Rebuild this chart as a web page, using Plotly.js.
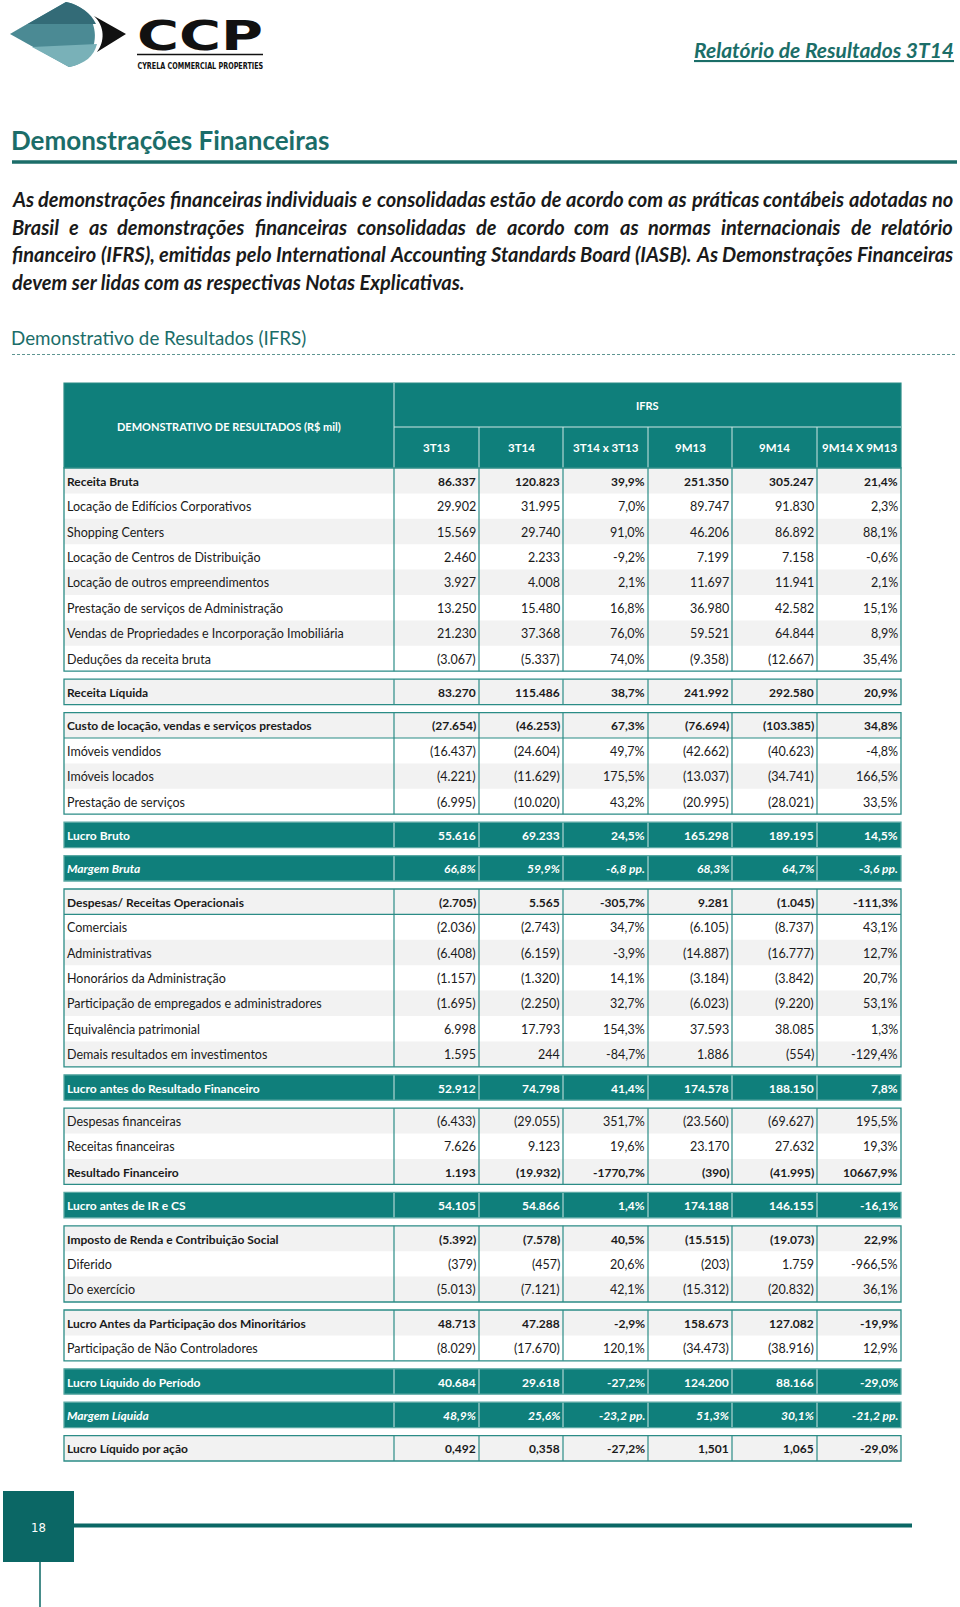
<!DOCTYPE html>
<html><head><meta charset="utf-8">
<script src="https://cdn.plot.ly/plotly-3.0.1.min.js"></script>
<style>html,body{margin:0;padding:0;background:#fff;}#chart{width:960px;height:1607px;}</style>
</head><body><div id="chart"></div>
<script>
// ================= DATA =================
const pageHeader = "Relatório de Resultados 3T14";
const sectionTitle = "Demonstrações Financeiras";
const subTitle = "Demonstrativo de Resultados (IFRS)";
const paragraphLines = [
  "As demonstrações financeiras individuais e consolidadas estão de acordo com as práticas contábeis adotadas no",
  "Brasil e as demonstrações financeiras consolidadas de acordo com as normas internacionais de relatório",
  "financeiro (IFRS), emitidas pelo International Accounting Standards Board (IASB). As Demonstrações Financeiras",
  "devem ser lidas com as respectivas Notas Explicativas."
];
const tableHeader = "DEMONSTRATIVO DE RESULTADOS (R$ mil)";
const tableGroupHeader = "IFRS";
const columnLabels = ["3T13", "3T14", "3T14 x 3T13", "9M13", "9M14", "9M14 X 9M13"];
const rowLabels = [
  "Receita Bruta", "Locação de Edifícios Corporativos", "Shopping Centers", "Locação de Centros de Distribuição",
  "Locação de outros empreendimentos", "Prestação de serviços de Administração",
  "Vendas de Propriedades e Incorporação Imobiliária", "Deduções da receita bruta",
  "Receita Líquida",
  "Custo de locação, vendas e serviços prestados", "Imóveis vendidos", "Imóveis locados", "Prestação de serviços",
  "Lucro Bruto",
  "Margem Bruta",
  "Despesas/ Receitas Operacionais", "Comerciais", "Administrativas", "Honorários da Administração",
  "Participação de empregados e administradores", "Equivalência patrimonial", "Demais resultados em investimentos",
  "Lucro antes do Resultado Financeiro",
  "Despesas financeiras", "Receitas financeiras", "Resultado Financeiro",
  "Lucro antes de IR e CS",
  "Imposto de Renda e Contribuição Social", "Diferido", "Do exercício",
  "Lucro Antes da Participação dos Minoritários", "Participação de Não Controladores",
  "Lucro Líquido do Período",
  "Margem Líquida",
  "Lucro Líquido por ação"
];
const val3T13 = ["86.337","29.902","15.569","2.460","3.927","13.250","21.230","(3.067)","83.270","(27.654)","(16.437)","(4.221)","(6.995)","55.616","66,8%","(2.705)","(2.036)","(6.408)","(1.157)","(1.695)","6.998","1.595","52.912","(6.433)","7.626","1.193","54.105","(5.392)","(379)","(5.013)","48.713","(8.029)","40.684","48,9%","0,492"];
const val3T14 = ["120.823","31.995","29.740","2.233","4.008","15.480","37.368","(5.337)","115.486","(46.253)","(24.604)","(11.629)","(10.020)","69.233","59,9%","5.565","(2.743)","(6.159)","(1.320)","(2.250)","17.793","244","74.798","(29.055)","9.123","(19.932)","54.866","(7.578)","(457)","(7.121)","47.288","(17.670)","29.618","25,6%","0,358"];
const var3T = ["39,9%","7,0%","91,0%","-9,2%","2,1%","16,8%","76,0%","74,0%","38,7%","67,3%","49,7%","175,5%","43,2%","24,5%","-6,8 pp.","-305,7%","34,7%","-3,9%","14,1%","32,7%","154,3%","-84,7%","41,4%","351,7%","19,6%","-1770,7%","1,4%","40,5%","20,6%","42,1%","-2,9%","120,1%","-27,2%","-23,2 pp.","-27,2%"];
const val9M13 = ["251.350","89.747","46.206","7.199","11.697","36.980","59.521","(9.358)","241.992","(76.694)","(42.662)","(13.037)","(20.995)","165.298","68,3%","9.281","(6.105)","(14.887)","(3.184)","(6.023)","37.593","1.886","174.578","(23.560)","23.170","(390)","174.188","(15.515)","(203)","(15.312)","158.673","(34.473)","124.200","51,3%","1,501"];
const val9M14 = ["305.247","91.830","86.892","7.158","11.941","42.582","64.844","(12.667)","292.580","(103.385)","(40.623)","(34.741)","(28.021)","189.195","64,7%","(1.045)","(8.737)","(16.777)","(3.842)","(9.220)","38.085","(554)","188.150","(69.627)","27.632","(41.995)","146.155","(19.073)","1.759","(20.832)","127.082","(38.916)","88.166","30,1%","1,065"];
const var9M = ["21,4%","2,3%","88,1%","-0,6%","2,1%","15,1%","8,9%","35,4%","20,9%","34,8%","-4,8%","166,5%","33,5%","14,5%","-3,6 pp.","-111,3%","43,1%","12,7%","20,7%","53,1%","1,3%","-129,4%","7,8%","195,5%","19,3%","10667,9%","-16,1%","22,9%","-966,5%","36,1%","-19,9%","12,9%","-29,0%","-21,2 pp.","-29,0%"];
const logoMark = "CCP";
const logoTagline = "CYRELA COMMERCIAL PROPERTIES";
const pageNumber = "18";

// ================= LAYOUT / STYLE CONFIG =================
const groupSizes = [8,1,4,1,1,7,1,3,1,3,2,1,1,1];
const boldRows = new Set([0,8,9,15,25,27,30,34]);
const tealRows = new Set([13,14,22,26,32,33]);
const italicRows = new Set([14,33]);
const headerRuleRows = new Set([9,15]);

const TEAL = '#0f7f7b', DARK_TEAL = '#0b6765', HEAD_TEAL = '#1b6d69';
const BORDER = '#2b8c86', LIGHT_LINE = '#cfe7e4', GRAY = '#f2f2f2', INK = '#1a1a1a';
const FONT = 'Lato, "Open Sans", sans-serif';
const colEdges = [64, 394, 479, 563, 648, 732, 817, 901];
const HEAD_TOP = 383, HEAD_MID = 427, HEAD_BOT = 468, ROW_H = 25.4, GAP = 8;
const BODY_SIZE = 12.5, BOLD_SIZE = 12;

const shapes = [], annotations = [], stretchTargets = [];
function rect(x0,y0,x1,y1,fill,lineColor,lw){
  shapes.push({type:'rect',xref:'x',yref:'y',x0,y0,x1,y1,fillcolor:fill||'rgba(0,0,0,0)',
    line:{color:lineColor||'rgba(0,0,0,0)',width:lw||0},layer:'above'});
}
function line(x0,y0,x1,y1,color,w,dash){
  shapes.push({type:'line',xref:'x',yref:'y',x0,y0,x1,y1,line:{color,width:w,dash:dash||'solid'},layer:'above'});
}
function ann(x,y,text,font,xanchor,extra){
  annotations.push(Object.assign({x,y,xref:'x',yref:'y',text,showarrow:false,xanchor:xanchor||'left',yanchor:'middle',
    borderpad:0,borderwidth:0,font:Object.assign({family:FONT,size:BODY_SIZE,color:INK},font||{})},extra||{}));
  return annotations.length-1;
}

// ---------- Logo ----------
shapes.push({type:'path',xref:'x',yref:'y',path:'M 10 34 L 66 2 C 104 9, 104 61, 69 67 Z',fillcolor:'#4b8a94',line:{width:0}});
shapes.push({type:'path',xref:'x',yref:'y',path:'M 10 34 L 66 2 C 80 5, 91 13, 96 24 L 28 24 Z',fillcolor:'#336b77',line:{width:0}});
shapes.push({type:'path',xref:'x',yref:'y',path:'M 32 47 L 97 44 C 94 56, 85 64, 69 67 Z',fillcolor:'#79b1b8',line:{width:0}});
shapes.push({type:'path',xref:'x',yref:'y',path:'M 94 16 L 126 34 L 97 52 C 105 42, 105 26, 94 16 Z',fillcolor:'#111',line:{width:0}});
stretchTargets.push([ann(200,36,'<b>'+logoMark+'</b>',{family:'"DejaVu Sans", sans-serif',size:40,color:'#111'},'center'),126]);
line(137,54.5,263,54.5,'#111',1.5);
stretchTargets.push([ann(200,65.4,'<b>'+logoTagline+'</b>',{family:'"DejaVu Sans Condensed","DejaVu Sans",sans-serif',size:9.5,color:'#111'},'center'),126]);

// ---------- Page header ----------
ann(954,49,'<b><i><u>'+pageHeader+'</u></i></b>',{size:21,color:'#1b6e68'},'right');
ann(11,140,'<b>'+sectionTitle+'</b>',{size:26,color:HEAD_TEAL},'left');
line(12,162,957,162,HEAD_TEAL,3.5);

// ---------- Paragraph (justified) ----------
const probe = document.createElement('span');
probe.style.cssText = 'position:absolute;left:-9999px;top:0;white-space:pre;font-style:italic;font-weight:700;font-family:'+FONT;
document.body.appendChild(probe);
function measure(t,size){ probe.style.fontSize = size+'px'; probe.textContent = t; return probe.getBoundingClientRect().width; }
let pSize = 17;
const w4 = measure(paragraphLines[3],17);
if (w4 > 0) pSize = Math.max(14, Math.min(20, 17*471/w4));
const pLeft = 12, pRight = 953, pY = [199, 226.5, 254, 281.5];
paragraphLines.forEach((ln,li)=>{
  if (li === paragraphLines.length-1){
    ann(pLeft,pY[li],'<b><i>'+ln+'</i></b>',{size:pSize},'left');
    return;
  }
  const words = ln.split(' ');
  const ws = words.map(w=>measure(w,pSize));
  const total = ws.reduce((a,b)=>a+b,0);
  const gap = (pRight-pLeft-total)/(words.length-1);
  let x = pLeft;
  words.forEach((w,i)=>{ ann(x,pY[li],'<b><i>'+w+'</i></b>',{size:pSize},'left'); x += ws[i]+gap; });
});
probe.remove();

// ---------- Sub title ----------
ann(11,337,subTitle,{size:18.8,color:HEAD_TEAL},'left');
line(12,354.5,957,354.5,'#5f9591',1,'3px,2px');

// ---------- Table header ----------
rect(colEdges[0],HEAD_TOP,colEdges[7],HEAD_BOT,TEAL,BORDER,1.2);
line(colEdges[1],HEAD_TOP,colEdges[1],HEAD_BOT,LIGHT_LINE,1);
line(colEdges[1],HEAD_MID,colEdges[7],HEAD_MID,LIGHT_LINE,1);
for (let c=2;c<7;c++) line(colEdges[c],HEAD_MID,colEdges[c],HEAD_BOT,LIGHT_LINE,1);
ann((colEdges[0]+colEdges[1])/2,(HEAD_TOP+HEAD_BOT)/2+1,'<b>'+tableHeader+'</b>',{size:11,color:'#fff'},'center');
ann((colEdges[1]+colEdges[7])/2,(HEAD_TOP+HEAD_MID)/2,'<b>'+tableGroupHeader+'</b>',{size:11,color:'#fff'},'center');
columnLabels.forEach((lab,c)=>ann((colEdges[c+1]+colEdges[c+2])/2,(HEAD_MID+HEAD_BOT)/2,'<b>'+lab+'</b>',{size:11.5,color:'#fff'},'center'));

// ---------- Table body ----------
const columns = [val3T13,val3T14,var3T,val9M13,val9M14,var9M];
let y = HEAD_BOT, r = 0;
groupSizes.forEach((n,gi)=>{
  if (gi>0) y += GAP;
  const gTop = y, isTeal = tealRows.has(r);
  for (let k=0;k<n;k++){
    const top = y, cy = y + ROW_H/2, idx = r;
    if (isTeal) rect(colEdges[0],top,colEdges[7],top+ROW_H,TEAL);
    else if (k%2===0) rect(colEdges[0],top,colEdges[7],top+ROW_H,GRAY);
    let wrapOpen = '', wrapClose = '';
    const isBold = boldRows.has(idx) || isTeal;
    if (isBold){ wrapOpen += '<b>'; wrapClose = '</b>'+wrapClose; }
    if (italicRows.has(idx)){ wrapOpen += '<i>'; wrapClose = '</i>'+wrapClose; }
    const f = {color: isTeal ? '#ffffff' : INK, size: isBold ? BOLD_SIZE : BODY_SIZE};
    ann(colEdges[0]+3,cy+0.5,wrapOpen+rowLabels[idx]+wrapClose,f,'left');
    columns.forEach((col,c)=>ann(colEdges[c+2]-3,cy+0.5,wrapOpen+col[idx]+wrapClose,f,'right'));
    if (headerRuleRows.has(idx)) line(colEdges[0],top+ROW_H,colEdges[7],top+ROW_H,BORDER,1.2);
    y += ROW_H; r++;
  }
  const gBot = y;
  for (let c=1;c<7;c++) line(colEdges[c],gTop,colEdges[c],gBot,isTeal?LIGHT_LINE:BORDER,isTeal?1:1.2);
  rect(colEdges[0],gTop,colEdges[7],gBot,null,isTeal?'#5aa8a3':BORDER,1.3);
});

// ---------- Footer ----------
line(74,1525.5,912,1525.5,DARK_TEAL,4);
line(40,1562,40,1607,DARK_TEAL,1.5);
rect(3,1491,74,1562,DARK_TEAL);
ann(38.5,1527,pageNumber,{size:13,color:'#fff',family:'"DejaVu Sans Condensed","DejaVu Sans",sans-serif'},'center');

const layout = {
  width:960, height:1607, margin:{l:0,r:0,t:0,b:0},
  paper_bgcolor:'#fff', plot_bgcolor:'#fff', showlegend:false,
  xaxis:{range:[0,960],visible:false,fixedrange:true},
  yaxis:{range:[1607,0],visible:false,fixedrange:true},
  shapes, annotations
};
Plotly.newPlot('chart',[{x:[],y:[],type:'scatter',mode:'markers',hoverinfo:'skip'}],layout,{staticPlot:true,displayModeBar:false})
.then(gd=>{
  // horizontally fit logo texts to the logo width
  stretchTargets.forEach(([i,target])=>{
    const g = gd.querySelector('.annotation[data-index="'+i+'"]');
    if (!g) return;
    const t = g.querySelector('text');
    if (!t) return;
    const bb = t.getBBox();
    if (!bb.width) return;
    const s = target/bb.width, cx = bb.x + bb.width/2;
    t.setAttribute('transform','translate('+cx+',0) scale('+s+',1) translate('+(-cx)+',0)');
  });
});
</script>
</body></html>
